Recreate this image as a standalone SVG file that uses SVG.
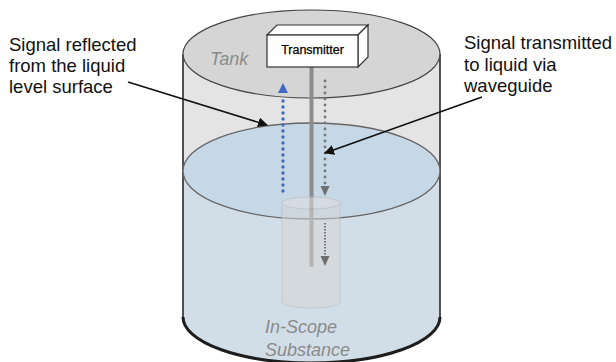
<svg xmlns="http://www.w3.org/2000/svg" width="616" height="362" viewBox="0 0 616 362">
<style>
.lbl{font-family:"Liberation Sans",Arial,sans-serif;font-size:18.5px;fill:#111}
.it{font-family:"Liberation Sans",Arial,sans-serif;font-size:18px;font-style:italic;fill:#8a8a8a}
.lead{stroke:#111;stroke-width:1.6;fill:none}
</style>
<defs>
<marker id="blk" viewBox="0 0 10 10" refX="9" refY="5" markerWidth="10" markerHeight="10" markerUnits="userSpaceOnUse" orient="auto"><path d="M0,0 L10,5 L0,10 z" fill="#111"/></marker>
</defs>
<rect width="616" height="362" fill="#fff"/>
<g id="tank">
<path d="M183,54 L183,171 L440,171 L440,54 Z" fill="#e4e4e4"/>
<path d="M183,171 L183,317 A128.5,46 0 0 0 440,317 L440,171 Z" fill="#d2dee7"/>
<path d="M183,54 L183,317 A128.5,46 0 0 0 440,317 L440,54" fill="none" stroke="#2a2a2a" stroke-width="1.6"/>
<path d="M183,317 A128.5,46 0 0 0 440,317" fill="none" stroke="#1e1e1e" stroke-width="3"/>
<ellipse cx="311.5" cy="171" rx="128.5" ry="48" fill="#c6d7e6" stroke="#666" stroke-width="1.3"/>
<ellipse cx="311.5" cy="54" rx="128.5" ry="44" fill="#d5d5d5" stroke="#444" stroke-width="1.2"/>
<text class="it" x="210" y="65">Tank</text>
<text class="it" x="265" y="333">In-Scope</text>
<text class="it" x="265" y="356">Substance</text>
</g>
<g id="waveguide">
<rect x="309.5" y="67" width="4" height="200" fill="#8c8c8c"/>
<g opacity="0.55">
<path d="M282,203 L282,302 A29,6 0 0 0 340,302 L340,203 Z" fill="#d6d6d6" stroke="#bbb" stroke-width="1"/>
<ellipse cx="311" cy="203" rx="29" ry="6" fill="#e0e0e0" stroke="#bbb" stroke-width="1"/>
</g>
</g>
<g id="transmitter">
<path d="M267,35 L277,25 L368,25 L358,35 Z" fill="#fff" stroke="#333" stroke-width="1.2"/>
<path d="M358,35 L368,25 L368,57 L358,67 Z" fill="#fff" stroke="#333" stroke-width="1.2"/>
<rect x="267" y="35" width="91" height="32" fill="#fff" stroke="#333" stroke-width="1.2"/>
<text x="312.5" y="54" text-anchor="middle" font-family="'Liberation Sans',Arial,sans-serif" font-size="12.5" fill="#000" stroke="#000" stroke-width="0.25">Transmitter</text>
</g>
<g id="signals">
<line x1="283" y1="191" x2="283" y2="95" stroke="#3f67c4" stroke-width="3.4" stroke-linecap="round" stroke-dasharray="0 6"/>
<path d="M283,83 L278,93 L288,93 Z" fill="#3f67c4"/>
<line x1="325" y1="81" x2="325" y2="185" stroke="#777" stroke-width="2.8" stroke-linecap="round" stroke-dasharray="0 6"/>
<path d="M325,196 L320.5,186 L329.5,186 Z" fill="#6e6e6e"/>
<line x1="325" y1="223" x2="325" y2="256" stroke="#777" stroke-width="2" stroke-dasharray="1.5 1.5"/>
<path d="M325,266 L320.5,256 L329.5,256 Z" fill="#6e6e6e"/>
</g>
<g id="connectors">
<line class="lead" x1="128" y1="82" x2="267" y2="125" marker-end="url(#blk)"/>
<line class="lead" x1="482" y1="97" x2="325" y2="153" marker-end="url(#blk)"/>
</g>
<g id="label-reflected">
<text class="lbl" x="9" y="51">Signal reflected</text>
<text class="lbl" x="9" y="71.5">from the liquid</text>
<text class="lbl" x="9" y="92.5">level surface</text>
</g>
<g id="label-transmitted">
<text class="lbl" x="464" y="49">Signal transmitted</text>
<text class="lbl" x="464" y="70.5">to liquid via</text>
<text class="lbl" x="464" y="91.5">waveguide</text>
</g>
</svg>
